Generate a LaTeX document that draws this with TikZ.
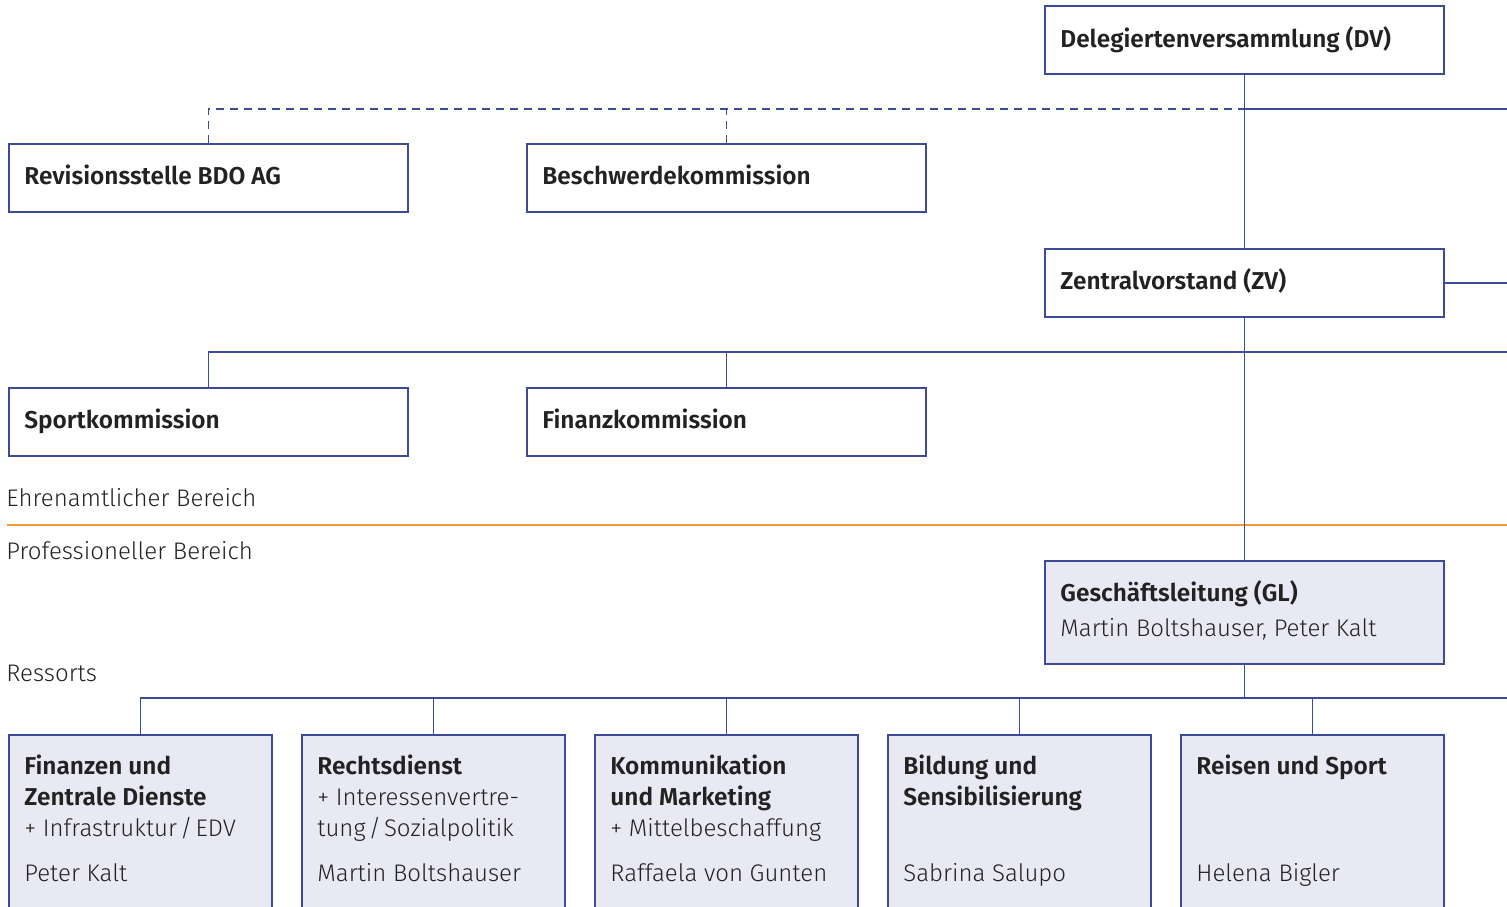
\documentclass[tikz,border=0pt]{standalone}
\usepackage{fontspec}
\setmainfont{Fira Sans Light}[BoldFont={Fira Sans SemiBold}]
\definecolor{bdr}{HTML}{3B4A9A}
\definecolor{boxfill}{HTML}{E9E9F4}
\definecolor{orangeline}{HTML}{F29A3A}
\definecolor{txtc}{HTML}{222222}
\begin{document}
\begin{tikzpicture}[x=0.5pt,y=-0.5pt,
  box/.style={draw=bdr,line width=0.75pt,rectangle,inner sep=0pt,anchor=north west},
  wbox/.style={box,fill=white,minimum width=199.5pt,minimum height=34pt},
  gbox/.style={box,fill=boxfill,minimum width=199.5pt,minimum height=51.5pt},
  rbox/.style={box,fill=boxfill,minimum width=131.5pt,minimum height=90pt},
  txt/.style={anchor=base west,inner sep=0pt,text=txtc,font=\fontsize{12pt}{14pt}\selectfont},
  btxt/.style={txt,font=\fontsize{12.2pt}{14pt}\selectfont\bfseries},
  conn/.style={draw=bdr,line width=0.75pt},
  dconn/.style={conn,dash pattern=on 4pt off 3pt}]
\clip (0,0) rectangle (1507,906);
\fill[white] (0,0) rectangle (1507,906);
% top boxes
\node[wbox] (dv) at (1044,5) {};
\node[btxt] (dvt) at (1060,47) {Delegiertenversammlung (DV)};
\node[wbox] (rev) at (8,143) {};
\node[btxt] (revt) at (24,184) {Revisionsstelle BDO AG};
\node[wbox] (bes) at (526,143) {};
\node[btxt] (best) at (542,184) {Beschwerdekommission};
\node[wbox] (zv) at (1044,248) {};
\node[btxt] (zvt) at (1060,289) {Zentralvorstand (ZV)};
\node[wbox] (spo) at (8,387) {};
\node[btxt] (spot) at (24,428) {Sportkommission};
\node[wbox] (fin) at (526,387) {};
\node[btxt] (fint) at (542,428) {Finanzkommission};
% labels
\node[txt] (ehr) at (6,506) {Ehrenamtlicher Bereich};
\node[txt] (pro) at (6,559) {Professioneller Bereich};
\node[txt] (res) at (6,681) {Ressorts};
\coordinate (ol) at (7,525);
\coordinate (or) at (1507,525);
\draw[orangeline,line width=0.6pt] (ol) -- (or);
% GL
\node[gbox] (gl) at (1044,560) {};
\node[btxt] (glt) at (1060,601) {Geschäftsleitung (GL)};
\node[txt] (gln) at (1060,636) {Martin Boltshauser, Peter Kalt};
% Ressorts boxes
\node[rbox] (r1) at (8,734) {};
\node[rbox] (r2) at (301,734) {};
\node[rbox] (r3) at (594,734) {};
\node[rbox] (r4) at (887,734) {};
\node[rbox] (r5) at (1180,734) {};
\node[btxt] (r1a) at (24,774) {Finanzen und};
\node[btxt] (r1b) at (24,805) {Zentrale Dienste};
\node[txt] (r1c) at (24,836) {+ Infrastruktur\kern1.5pt/\kern1.5pt EDV};
\node[txt] (r1d) at (24,881) {Peter Kalt};
\node[btxt] (r2a) at (317,774) {Rechtsdienst};
\node[txt] (r2b) at (317,805) {+ Interessenvertre-};
\node[txt] (r2c) at (317,836) {tung\kern1.5pt/\kern1.5pt Sozialpolitik};
\node[txt] (r2d) at (317,881) {Martin Boltshauser};
\node[btxt] (r3a) at (610,774) {Kommunikation};
\node[btxt] (r3b) at (610,805) {und Marketing};
\node[txt] (r3c) at (610,836) {+ Mittelbeschaffung};
\node[txt] (r3d) at (610,881) {Raffaela von Gunten};
\node[btxt] (r4a) at (903,774) {Bildung und};
\node[btxt] (r4b) at (903,805) {Sensibilisierung};
\node[txt] (r4d) at (903,881) {Sabrina Salupo};
\node[btxt] (r5a) at (1196,774) {Reisen und Sport};
\node[txt] (r5d) at (1196,881) {Helena Bigler};
% connectors
\coordinate (dj) at (dv.south |- 0,109);
\coordinate (dr) at (1507,109);
\coordinate (zr) at (1507,282);
\coordinate (kj) at (zv.south |- 0,352);
\coordinate (kr) at (1507,352);
\coordinate (gj) at (gl.south |- 0,698);
\coordinate (gr) at (1507,698);
\draw[conn] (dv.south) -- (zv.north);
\draw[conn] (zv.south) -- (gl.north);
\draw[conn] (dj) -- (dr);
\draw[dconn] (rev.north) |- (dj);
\draw[dconn] (bes.north) -- (bes.north |- dj);
\draw[conn] (zv.east) -- (zv.east -| zr);
\draw[conn] (spo.north) |- (kr);
\draw[conn] (fin.north) -- (fin.north |- kj);
\draw[conn] (gl.south) -- (gj);
\draw[conn] (r1.north) |- (gr);
\foreach \r in {r2,r3,r4,r5} \draw[conn] (\r.north) -- (\r.north |- gj);
\end{tikzpicture}
\end{document}
